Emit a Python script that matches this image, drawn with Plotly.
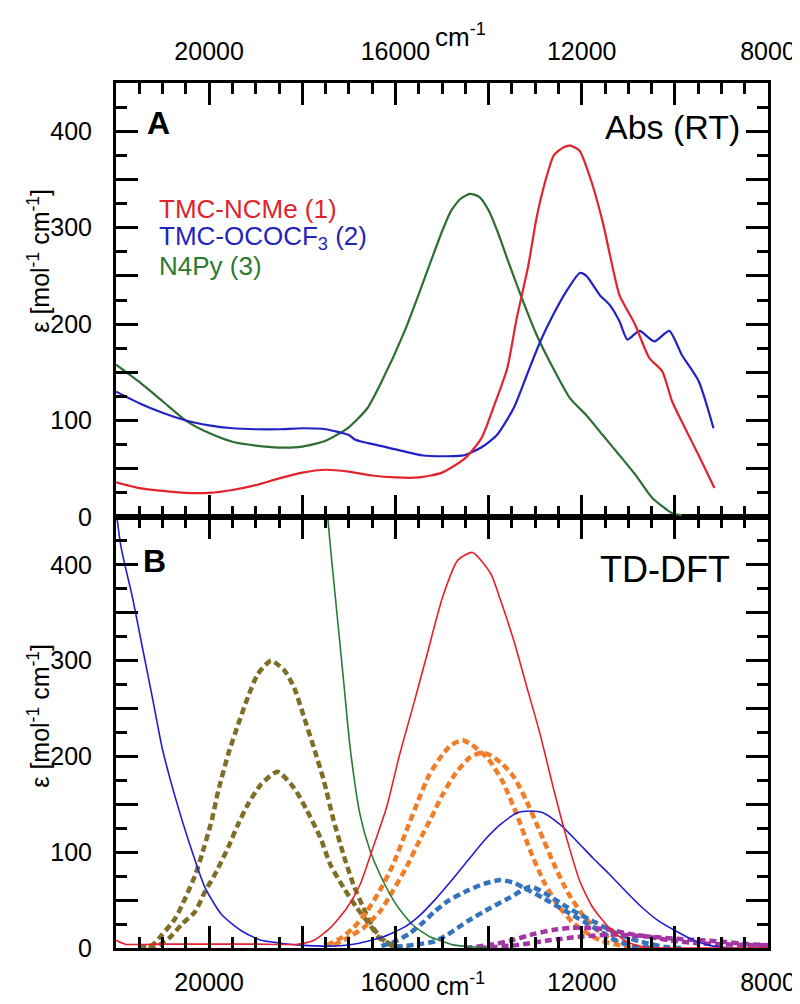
import plotly.graph_objects as go

# ---------------- Panel A : Abs (RT) ----------------
A_red_nu = [22000, 21500, 21000, 20500, 20000, 19500, 19000, 18500, 18000, 17500, 17000, 16500, 16000, 15500,
            15000, 14500, 14150, 13900, 13600, 13400, 13150, 12970, 12800, 12600, 12400, 12250, 12050, 11820,
            11550, 11190, 10970, 10850, 10550, 10270, 10060, 9780, 9490, 9150]
A_red_eps = [36, 30, 27, 25, 25, 28, 33, 40, 46, 49, 47, 43, 41, 41,
             46, 61, 82, 113, 154, 205, 260, 310, 345, 375, 383, 385, 380, 352,
             306, 230, 210, 199, 165, 151, 120, 92, 64, 30]

A_blue_nu = [22000, 21500, 21000, 20500, 20000, 19500, 19000, 18500, 18000, 17500, 17000, 16860, 16160, 15440,
             14880, 14520, 14160, 13820, 13460, 13180, 12890, 12610, 12330, 12040, 11900, 11610, 11400, 11190,
             11020, 10760, 10440, 10120, 9850, 9490, 9170]
A_blue_eps = [130, 118, 108, 100, 95, 92, 91, 91, 92, 91, 85, 80, 72, 64,
              63, 64, 72, 85, 113, 147, 182, 210, 234, 253, 250, 230, 220, 203,
              184, 193, 182, 193, 168, 141, 92]

A_green_nu = [22000, 21500, 21000, 20500, 20000, 19500, 19000, 18500, 18000, 17500, 17000, 16600, 16290, 15800,
              15370, 15000, 14800, 14600, 14400, 14200, 14000, 13800, 13600, 13310, 12970, 12610, 12250, 11910,
              11550, 11190, 10850, 10490, 10060, 9850]
A_green_eps = [158, 140, 120, 100, 87, 78, 74, 72, 73, 79, 93, 113, 141, 193,
               248, 296, 318, 330, 335, 332, 318, 295, 268, 230, 189, 154, 123, 106,
               85, 64, 44, 20, 4, 2]

# ---------------- Panel B : TD-DFT ----------------
B_red_nu = [22000, 21800, 21000, 20000, 19000, 18100, 17750, 17400, 17040, 16760, 16480, 16190, 15910, 15630,
            15340, 14990, 14660, 14345, 13955, 13743, 13459, 13176, 12893, 12609, 12326, 12043, 11760, 11405,
            11051, 10697, 10000, 8000]
B_red_eps = [8, 4, 4, 4, 4, 4, 8, 21, 42, 66, 105, 147, 202, 251,
             303, 366, 405, 413, 391, 363, 321, 272, 223, 167, 115, 70, 42, 21,
             7, 1, 0, 0]

B_blue_nu = [22100, 21894, 21646, 21434, 21221, 21009, 20726, 20442, 20088, 19734, 19310, 18885, 18460, 18035,
             17400, 16900, 16300, 15800, 15500, 15159, 14805, 14451, 14097, 13743, 13388, 13105, 12822, 12468,
             12114, 11760, 11405, 11051, 10697, 10343, 9989, 9635, 9281, 8785, 8000]
B_blue_eps = [500, 419, 366, 314, 262, 209, 157, 112, 63, 35, 18, 8, 5, 3,
              2, 4, 11, 22, 33, 50, 70, 91, 112, 129, 141, 143, 141, 129,
              112, 94, 77, 59, 42, 28, 18, 9, 3, 0, 0]

B_green_nu = [17700, 17454, 17397, 17255, 17113, 16972, 16759, 16547, 16334, 15980, 15626, 15272, 14989, 14734,
              14300, 14000]
B_green_eps = [560, 450, 419, 349, 279, 209, 139, 102, 77, 45, 24, 12, 7, 3,
               1, 0]

B_olive1_nu = [21500, 21221, 21009, 20725, 20513, 20300, 20159, 19946, 19805, 19592, 19380, 19167, 18955, 18671,
               18388, 18176, 17963, 17751, 17539, 17326, 17113, 16901, 16688, 16476, 16300, 16100, 15900]
B_olive1_eps = [0, 3, 14, 31, 52, 76, 97, 133, 164, 202, 233, 262, 286, 300,
                290, 272, 241, 209, 175, 133, 97, 66, 42, 21, 10, 3, 0]

B_olive2_nu = [21300, 21079, 20867, 20583, 20300, 20088, 19875, 19592, 19380, 19167, 18884, 18530, 18176, 17893,
               17610, 17397, 17113, 16830, 16547, 16334, 15980, 15700]
B_olive2_eps = [0, 3, 10, 25, 38, 59, 77, 105, 129, 150, 171, 184, 167, 143,
                115, 87, 63, 42, 24, 10, 2, 0]

B_orange1_nu = [17470, 17184, 16901, 16618, 16334, 16051, 15768, 15485, 15272, 14989, 14800, 14557, 14300, 14000,
                13700, 13400, 13100, 12800, 12500, 12200, 11900, 11600, 11300, 11000, 10600]
B_orange1_eps = [3, 10, 21, 38, 60, 87, 122, 157, 181, 202, 212, 217, 210, 197,
                 174, 140, 101, 68, 44, 27, 16, 8, 4, 1, 0]

B_orange2_nu = [17326, 17043, 16688, 16334, 16051, 15768, 15485, 15201, 14989, 14700, 14400, 14150, 13950, 13700,
                13450, 13200, 12900, 12600, 12300, 12000, 11700, 11400, 11100, 10800, 10400]
B_orange2_eps = [3, 10, 21, 38, 60, 84, 112, 139, 160, 183, 199, 204, 201, 192,
                 178, 155, 122, 88, 58, 36, 20, 10, 4, 1, 0]

B_bdash1_nu = [16300, 16000, 15700, 15400, 15159, 14876, 14451, 14100, 13743, 13450, 13247, 12822, 12326, 11972,
               11618, 11264, 10910, 10500]
B_bdash1_eps = [2, 7, 15, 27, 38, 49, 60, 67, 71, 68, 63, 52, 38, 28,
                18, 8, 2, 0]

B_bdash2_nu = [16000, 15500, 15159, 14876, 14451, 13955, 13530, 13105, 12680, 12326, 12043, 11760, 11476, 11193,
               10768, 10201, 9800]
B_bdash2_eps = [1, 4, 7, 14, 28, 42, 53, 64, 54, 43, 35, 28, 21, 14,
                7, 1, 0]

B_purple1_nu = [14500, 14000, 13500, 13000, 12600, 12200, 11800, 11400, 11000, 10600, 10100, 9500, 9000, 8500, 8000]
B_purple1_eps = [0, 3, 8, 15, 19, 21, 21, 19, 15, 12, 8, 5, 4, 3, 3]

B_purple2_nu = [14200, 13400, 12700, 12000, 11300, 10600, 9800, 9100, 8400, 8000]
B_purple2_eps = [0, 3, 8, 12, 14, 12, 9, 7, 4, 3]

# axis ticks: long ticks every 2000 cm-1 / 50 units (labels every 4000 / 100), short every 500 / 25
X_RANGE = [22000, 8000]
Y_RANGE = [0, 450]
x_hidden = ["22000", "18000", "14000", "10000"]
y_hidden = ["50", "150", "250", "350", "450"]

FONT = "Liberation Sans, Arial, Helvetica, sans-serif"

RED_A, BLUE_A, GREEN_A = "#e3222c", "#2222c4", "#2c6e34"
RED_B, BLUE_B, GREEN_B = "#e8202a", "#1e1ed2", "#2a7a38"
OLIVE, ORANGE, BDASH, PURPLE = "#7d6e28", "#f07d28", "#3474bf", "#a336a3"

fig = go.Figure()


def add(nu, eps, color, width, xa, ya, dash="solid"):
    fig.add_trace(go.Scatter(x=nu, y=eps, mode="lines", xaxis=xa, yaxis=ya,
                             line=dict(color=color, width=width, dash=dash, shape="spline", smoothing=0.6),
                             showlegend=False, hoverinfo="skip"))


# panel A  (x4 / y4 are overlay copies of x2 / y2 carrying the short ticks)
add(A_green_nu, A_green_eps, GREEN_A, 2.2, "x2", "y2")
add(A_red_nu, A_red_eps, RED_A, 2.2, "x4", "y2")
add(A_blue_nu, A_blue_eps, BLUE_A, 2.2, "x2", "y4")

# panel B  (x3 / y3 are overlay copies of x / y carrying the short ticks)
DASH = "7px,4px"
add(B_olive1_nu, B_olive1_eps, OLIVE, 4.5, "x", "y", DASH)
add(B_olive2_nu, B_olive2_eps, OLIVE, 4.5, "x", "y", DASH)
add(B_orange1_nu, B_orange1_eps, ORANGE, 4.5, "x", "y", DASH)
add(B_orange2_nu, B_orange2_eps, ORANGE, 4.5, "x", "y", DASH)
add(B_bdash1_nu, B_bdash1_eps, BDASH, 4.5, "x", "y", DASH)
add(B_bdash2_nu, B_bdash2_eps, BDASH, 4.5, "x", "y", DASH)
add(B_purple1_nu, B_purple1_eps, PURPLE, 4.5, "x", "y", DASH)
add(B_purple2_nu, B_purple2_eps, PURPLE, 4.5, "x", "y", DASH)
add(B_green_nu, B_green_eps, GREEN_B, 1.6, "x", "y")
add(B_red_nu, B_red_eps, RED_B, 1.6, "x3", "y")
add(B_blue_nu, B_blue_eps, BLUE_B, 1.6, "x", "y3")

W, H = 800, 1004
L, R, T, B = 108, 34, 75, 64
PW, PH = W - L - R, H - T - B
HB = 431
split = HB / PH

tickfont = dict(family=FONT, size=25, color="black")
common = dict(showline=True, linewidth=3, linecolor="black", mirror="ticks",
              ticks="inside", tickcolor="black", tickwidth=2.5,
              showgrid=False, zeroline=False, fixedrange=True)


def xmajor(anchor, side):
    return dict(range=X_RANGE, anchor=anchor, side=side, domain=[0, 1],
                ticklen=22, tickmode="linear", tick0=0, dtick=2000, tickformat="d",
                labelalias={k: " " for k in x_hidden},
                tickfont=tickfont, ticklabelstandoff=10, **common)


def xshort(over, anchor, side):
    return dict(range=X_RANGE, overlaying=over, anchor=anchor, side=side,
                ticklen=11, tickmode="linear", tick0=0, dtick=500,
                showticklabels=False, **common)


def ymajor(anchor, domain):
    return dict(range=Y_RANGE, anchor=anchor, domain=domain, side="left",
                ticklen=22, tickmode="linear", tick0=0, dtick=50, tickformat="d",
                labelalias={k: " " for k in y_hidden},
                tickfont=tickfont, ticklabelstandoff=16, **common)


def yshort(over, anchor):
    return dict(range=Y_RANGE, overlaying=over, anchor=anchor, side="left",
                ticklen=11, tickmode="linear", tick0=0, dtick=25,
                showticklabels=False, **common)


def px(x):
    return (x - L) / PW


def py(y):
    return (H - B - y) / PH


ann = []


def text(x, y, s, size, color="black", xanchor="left", angle=0, bold=False):
    if bold:
        s = "<b>" + s + "</b>"
    ann.append(dict(x=px(x), y=py(y), xref="paper", yref="paper", text=s, showarrow=False,
                    xanchor=xanchor, yanchor="middle", textangle=angle,
                    font=dict(family=FONT, size=size, color=color)))


text(137, 115, "A", 32, bold=True)
text(133, 553, "B", 32, bold=True)
text(740, 119, "Abs (RT)", 34, xanchor="right")
text(730, 561, "TD-DFT", 36, xanchor="right")
text(149, 201, "TMC-NCMe (1)", 26, color="#e0242c")
text(149, 229.5, "TMC-OCOCF<sub>3</sub> (2)", 26, color="#2424b8")
text(149, 258, "N4Py (3)", 26, color="#2e7a30")
text(30, 253, "ε [mol<sup>-1</sup> cm<sup>-1</sup>]", 25, xanchor="center", angle=-90)
text(30, 708, "ε [mol<sup>-1</sup> cm<sup>-1</sup>]", 25, xanchor="center", angle=-90)
text(456, 27, "cm<sup>-1</sup>", 26, xanchor="center")
text(456, 976, "cm<sup>-1</sup>", 25, xanchor="center")

fig.update_layout(
    width=W, height=H, autosize=False,
    margin=dict(l=L, r=R, t=T, b=B, pad=0),
    paper_bgcolor="white", plot_bgcolor="white",
    xaxis=xmajor("y", "bottom"),
    yaxis=ymajor("x", [0, split]),
    xaxis2=xmajor("y2", "top"),
    yaxis2=ymajor("x2", [split, 1]),
    xaxis3=xshort("x", "y", "bottom"),
    yaxis3=yshort("y", "x"),
    xaxis4=xshort("x2", "y2", "top"),
    yaxis4=yshort("y2", "x2"),
    annotations=ann,
    showlegend=False,
)

fig.write_html("out.html", config=dict(displayModeBar=False))
